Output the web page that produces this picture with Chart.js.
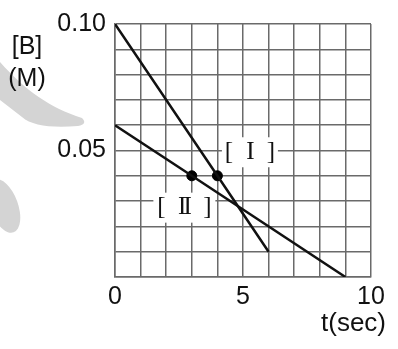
<!DOCTYPE html>
<html>
<head>
<meta charset="utf-8">
<script src="https://cdn.jsdelivr.net/npm/chart.js@4/dist/chart.umd.min.js"></script>
<style>
  html, body { margin: 0; padding: 0; background: #fff; }
  #wrap { width: 398px; height: 349px; }
</style>
</head>
<body>
<div id="wrap"><canvas id="myChart" width="398" height="349"></canvas></div>
<script>
// data
const lineI_t = [0, 4, 6];
const lineI_B = [0.10, 0.04, 0.01];
const lineII_t = [0, 3, 9];
const lineII_B = [0.06, 0.04, 0];
const dot_t = [3, 4];
const dot_B = [0.04, 0.04];
const xTickLabels = [0, 5, 10];
const yTickLabels = [0.05, 0.10];

const toPts = (xs, ys) => xs.map((x, i) => ({ x: x, y: ys[i] }));

// grey swoosh shapes + line labels + axis names
const extras = {
    id: 'extras',
    beforeDraw(chart) {
        const c = chart.ctx;
        c.save();
        c.fillStyle = '#d4d4d4';
        c.beginPath();
        c.moveTo(0, 62);
        c.bezierCurveTo(25, 90, 50, 108, 82, 118);
        c.quadraticCurveTo(88, 124, 78, 126);
        c.bezierCurveTo(52, 128, 32, 126, 22, 117);
        c.lineTo(0, 100);
        c.closePath();
        c.fill();
        c.beginPath();
        c.ellipse(4, 206, 14, 28, -0.35, 0, Math.PI * 2);
        c.fill();
        c.restore();
    },
    beforeDatasetsDraw(chart) {
        const c = chart.ctx, xs = chart.scales.x, ys = chart.scales.y;
        const tags = [
            { t: 5.27, b: 0.0497, txt: 'I', gap: 21, w: 56 },
            { t: 2.71, b: 0.0278, txt: 'II', gap: 23, w: 62 }
        ];
        c.save();
        c.font = '25px "Liberation Serif", serif';
        c.textAlign = 'center';
        c.textBaseline = 'middle';
        tags.forEach(g => {
            const px = xs.getPixelForValue(g.t), py = ys.getPixelForValue(g.b);
            c.fillStyle = '#fff';
            c.fillRect(px - g.w / 2, py - 14, g.w, 30);
            c.fillStyle = '#111';
            c.fillText('[', px - g.gap, py + 1);
            c.fillText(']', px + g.gap, py + 1);
            c.letterSpacing = '-3px';
            c.fillText(g.txt, px - 1, py + 1);
            c.letterSpacing = '0px';
        });
        c.restore();
    },
    afterDraw(chart) {
        const c = chart.ctx;
        c.save();
        c.fillStyle = '#111';
        c.font = '25px "Liberation Sans", Arial, sans-serif';
        c.textAlign = 'center';
        c.textBaseline = 'middle';
        c.fillText('[B]', 27, 47);
        c.fillText('(M)', 27, 79);
        c.textAlign = 'right';
        c.font = '26px "Liberation Sans", Arial, sans-serif';
        c.fillText('t(sec)', 386, 324);
        c.restore();
    }
};

const tickFont = { family: '"Liberation Sans", Arial, sans-serif', size: 25 };

const ctx = document.getElementById('myChart').getContext('2d');
const chart = new Chart(ctx, {
    type: 'scatter',
    data: {
        datasets: [{
            data: toPts(lineI_t, lineI_B),
            showLine: true,
            borderColor: '#111',
            borderWidth: 2.5,
            pointRadius: 0
        }, {
            data: toPts(lineII_t, lineII_B),
            showLine: true,
            borderColor: '#111',
            borderWidth: 2.5,
            pointRadius: 0
        }, {
            data: toPts(dot_t, dot_B),
            showLine: false,
            backgroundColor: '#000',
            borderColor: '#000',
            pointRadius: 5
        }]
    },
    options: {
        responsive: false,
        animation: false,
        layout: { padding: { left: 55, right: 27, top: 22, bottom: 42 } },
        plugins: { legend: { display: false }, tooltip: { enabled: false } },
        scales: {
            x: {
                type: 'linear', min: 0, max: 10,
                afterFit: s => { s.height = 30; },
                ticks: {
                    stepSize: 1, padding: 5, maxRotation: 0, autoSkip: false,
                    color: '#111', font: tickFont,
                    callback: v => xTickLabels.includes(v) ? String(v) : ''
                },
                grid: { color: '#6a6a6a', lineWidth: 1.5, drawTicks: false },
                border: { color: '#6a6a6a', width: 1.5 }
            },
            y: {
                min: 0, max: 0.1,
                afterFit: s => { s.width = 60; },
                ticks: {
                    stepSize: 0.01, padding: 9, autoSkip: false,
                    color: '#111', font: tickFont,
                    callback: v => yTickLabels.some(t => Math.abs(t - v) < 1e-9) ? v.toFixed(2) : ''
                },
                grid: { color: '#6a6a6a', lineWidth: 1.5, drawTicks: false },
                border: { color: '#6a6a6a', width: 1.5 }
            }
        }
    },
    plugins: [extras]
});
</script>
</body>
</html>
